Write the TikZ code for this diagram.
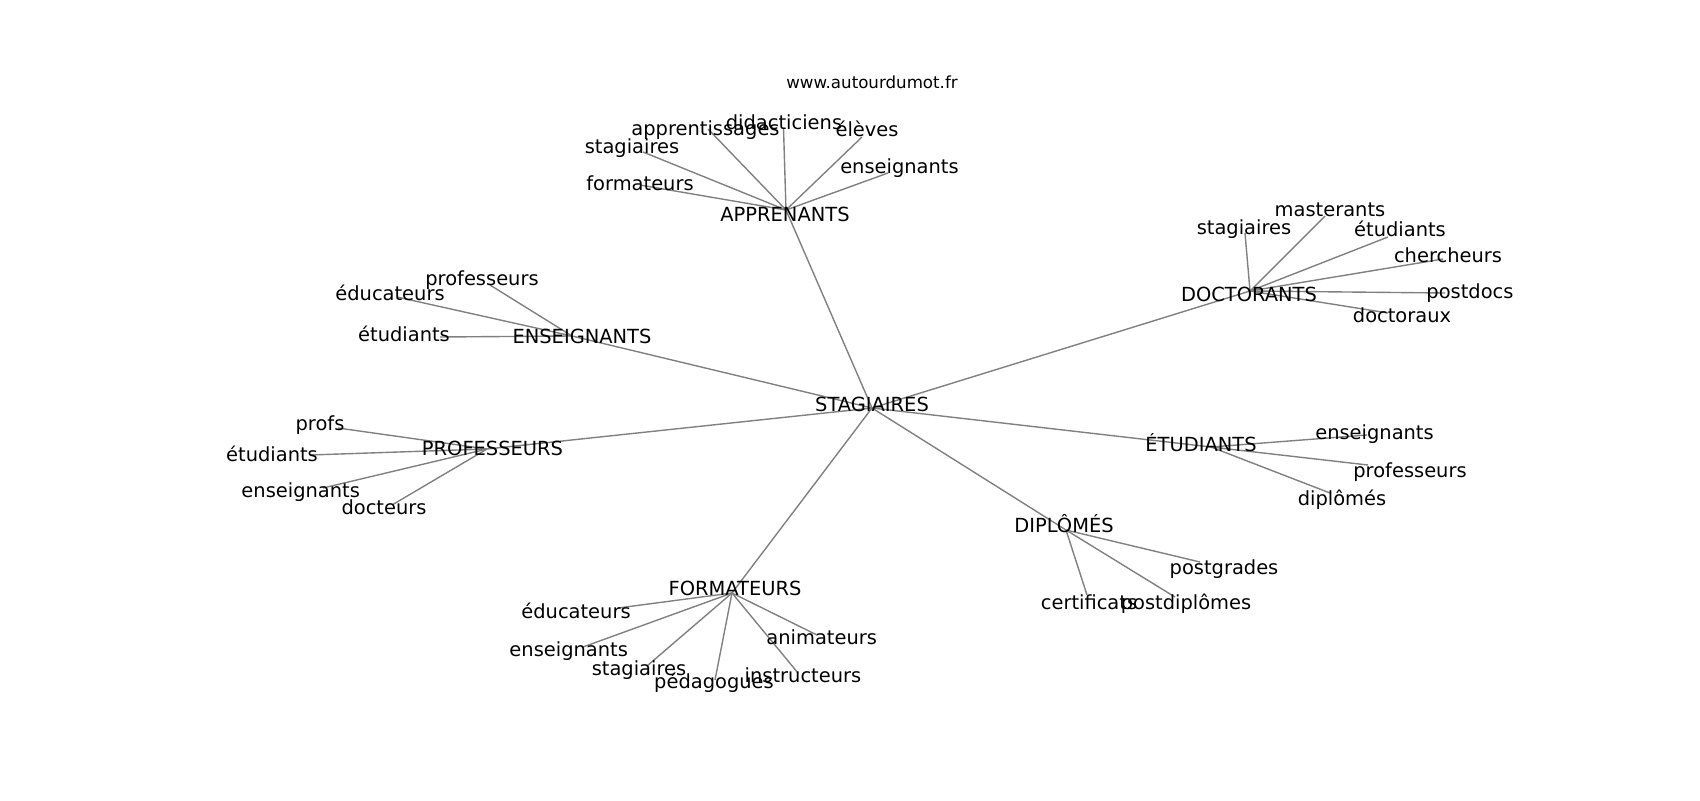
\documentclass[tikz,border=0pt]{standalone}
\usepackage{fontspec}
\setmainfont{DejaVu Sans}
\begin{document}
\begin{tikzpicture}[x=0.72pt,y=-0.72pt]
\tikzset{
  lbl/.style={inner sep=0pt, anchor=base, text=black, font=\fontsize{14}{16}\selectfont},
  small/.style={inner sep=0pt, anchor=base, text=black, font=\fontsize{12}{14}\selectfont},
  link/.style={draw=gray, line width=1pt}
}
\useasboundingbox[fill=white] (0,0) rectangle (1700,800);
% ---- edge end points (graph node positions)
\coordinate (pSTA) at (872,408);
\coordinate (pAPP) at (786,210);
\coordinate (pDOC) at (1250,291);
\coordinate (pENS) at (572,336);
\coordinate (pPRO) at (487,449);
\coordinate (pFOR) at (732,593);
\coordinate (pETU) at (1211,447);
\coordinate (pDIP) at (1066,530);
% apprenants leaves
\coordinate (pAform) at (640,185);
\coordinate (pAstag) at (643,152);
\coordinate (pAappr) at (708,129);
\coordinate (pAdida) at (783.5,128);
\coordinate (pAelev) at (862,137);
\coordinate (pAense) at (888,173);
% doctorants leaves
\coordinate (pDstag) at (1245,233);
\coordinate (pDmast) at (1325,216);
\coordinate (pDetud) at (1388,237);
\coordinate (pDcher) at (1443,259);
\coordinate (pDpost) at (1445,293);
\coordinate (pDdoct) at (1388,313);
% enseignants leaves
\coordinate (pEprof) at (490,285);
\coordinate (pEeduc) at (397,297);
\coordinate (pEetud) at (440,337);
% professeurs leaves
\coordinate (pPprof) at (338,428);
\coordinate (pPetud) at (310,455);
\coordinate (pPense) at (323,488);
\coordinate (pPdoct) at (392,505);
% formateurs leaves
\coordinate (pFeduc) at (618,608);
\coordinate (pFense) at (583,647);
\coordinate (pFstag) at (647,666);
\coordinate (pFpeda) at (715,680);
\coordinate (pFanim) at (817,635);
\coordinate (pFinst) at (798,673);
% etudiants leaves
\coordinate (pUense) at (1367,435);
\coordinate (pUprof) at (1368,465);
\coordinate (pUdipl) at (1330,493);
% diplomes leaves
\coordinate (pIpost) at (1200,562);
\coordinate (pIcert) at (1087,595);
\coordinate (pIpdip) at (1175,597);
% ---- edges
\foreach \a/\b in {pSTA/pAPP,pSTA/pDOC,pSTA/pENS,pSTA/pPRO,pSTA/pFOR,pSTA/pETU,pSTA/pDIP,
  pAPP/pAform,pAPP/pAstag,pAPP/pAappr,pAPP/pAdida,pAPP/pAelev,pAPP/pAense,
  pDOC/pDstag,pDOC/pDmast,pDOC/pDetud,pDOC/pDcher,pDOC/pDpost,pDOC/pDdoct,
  pENS/pEprof,pENS/pEeduc,pENS/pEetud,
  pPRO/pPprof,pPRO/pPetud,pPRO/pPense,pPRO/pPdoct,
  pFOR/pFeduc,pFOR/pFense,pFOR/pFstag,pFOR/pFpeda,pFOR/pFanim,pFOR/pFinst,
  pETU/pUense,pETU/pUprof,pETU/pUdipl,
  pDIP/pIpost,pDIP/pIcert,pDIP/pIpdip}
  \draw[link] (\a) -- (\b);
% ---- labels
\node[small] (www) at (872,88.3) {www.autourdumot.fr};
\node[lbl] (STA) at (872,411.7) {STAGIAIRES};
\node[lbl] (APP) at (785,221) {APPRENANTS};
\node[lbl] (Adida) at (784,129.3) {didacticiens};
\node[lbl] (Aappr) at (705.5,135) {apprentissages};
\node[lbl] (Aelev) at (867,136.7) {élèves};
\node[lbl] (Aense) at (899.5,173.3) {enseignants};
\node[lbl] (Astag) at (632,153.3) {stagiaires};
\node[lbl] (Aform) at (640,190.7) {formateurs};
\node[lbl] (DOC) at (1249,301.7) {DOCTORANTS};
\node[lbl] (Dstag) at (1244,234) {stagiaires};
\node[lbl] (Dmast) at (1330,216.7) {masterants};
\node[lbl] (Detud) at (1400,236.7) {étudiants};
\node[lbl] (Dcher) at (1448,262.7) {chercheurs};
\node[lbl] (Dpost) at (1470,298.3) {postdocs};
\node[lbl] (Ddoct) at (1402,322.7) {doctoraux};
\node[lbl] (ENS) at (582,343.3) {ENSEIGNANTS};
\node[lbl] (Eprof) at (482,285) {professeurs};
\node[lbl] (Eeduc) at (390,300.7) {éducateurs};
\node[lbl] (Eetud) at (404,341) {étudiants};
\node[lbl] (PRO) at (492.5,455.7) {PROFESSEURS};
\node[lbl] (Pprof) at (320,430) {profs};
\node[lbl] (Petud) at (272,461.7) {étudiants};
\node[lbl] (Pense) at (300.7,497.3) {enseignants};
\node[lbl] (Pdoct) at (384,514.3) {docteurs};
\node[lbl] (FOR) at (735,595) {FORMATEURS};
\node[lbl] (Feduc) at (576,618.3) {éducateurs};
\node[lbl] (Fense) at (568.7,656.7) {enseignants};
\node[lbl] (Fstag) at (639,675) {stagiaires};
\node[lbl] (Fpeda) at (714,688.3) {pédagogues};
\node[lbl] (Fanim) at (821.7,644) {animateurs};
\node[lbl] (Finst) at (803,682.5) {instructeurs};
\node[lbl] (ETU) at (1201,451.7) {ÉTUDIANTS};
\node[lbl] (Uense) at (1374.5,439.3) {enseignants};
\node[lbl] (Uprof) at (1410,477.7) {professeurs};
\node[lbl] (Udipl) at (1342,505) {diplômés};
\node[lbl] (DIP) at (1064,532.7) {DIPLÔMÉS};
\node[lbl] (Ipost) at (1224,574.3) {postgrades};
\node[lbl] (Icert) at (1089,609) {certificats};
\node[lbl] (Ipdip) at (1186,609.3) {postdiplômes};
\end{tikzpicture}
\end{document}
